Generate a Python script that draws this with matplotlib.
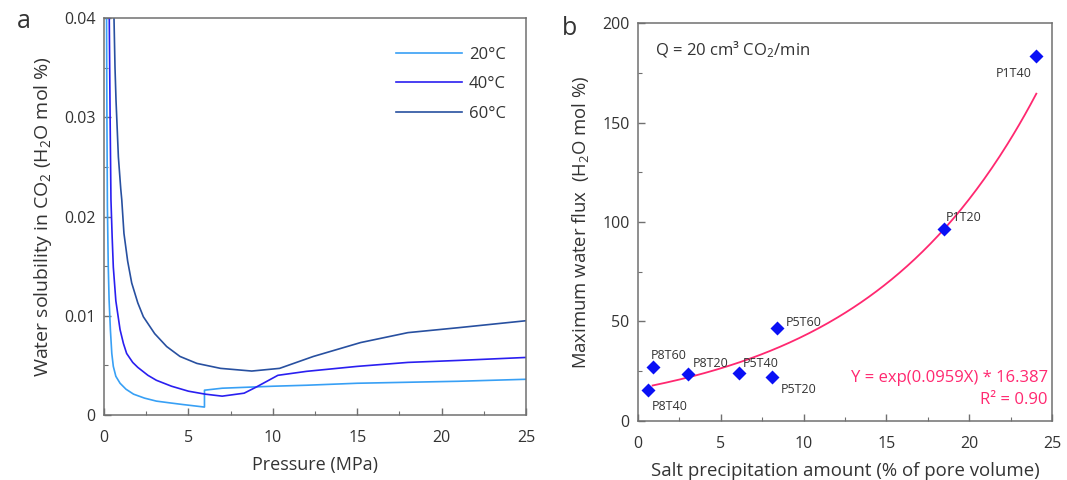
import numpy as np
import matplotlib
matplotlib.use("Agg")
import matplotlib.pyplot as plt

plt.rcParams['font.family'] = ['Open Sans', 'DejaVu Sans']
plt.rcParams['mathtext.fontset'] = 'custom'
plt.rcParams['mathtext.rm'] = 'Open Sans'
plt.rcParams['mathtext.it'] = 'Open Sans:italic'

# panel a: water solubility in CO2 vs pressure
p_20 = [0.15, 0.17, 0.2, 0.25, 0.3, 0.38, 0.46, 0.55, 0.7, 0.95, 1.3, 1.75, 2.4, 3.1, 4.0, 4.7,
        5.95, 5.95, 7.0, 8.5, 10, 12, 15, 18, 21, 25]
w_20 = [0.040, 0.030, 0.021, 0.015, 0.0116, 0.0085, 0.0062, 0.0049, 0.0039, 0.0032, 0.0026, 0.0021,
        0.0017, 0.0014, 0.0012, 0.00105, 0.0008, 0.0025, 0.0027, 0.0028, 0.0029, 0.0030, 0.0032,
        0.0033, 0.0034, 0.0036]

p_40 = [0.31, 0.36, 0.41, 0.48, 0.55, 0.7, 0.95, 1.15, 1.34, 1.7, 2.0, 2.6, 3.1, 4.0, 5.0, 6.0,
        7.0, 8.3, 9.0, 10.3, 12, 15, 18, 21, 25]
w_40 = [0.040, 0.030, 0.0217, 0.018, 0.0149, 0.0115, 0.0086, 0.0072, 0.0062, 0.0053, 0.0048, 0.0040,
        0.0035, 0.0029, 0.0024, 0.0021, 0.0019, 0.0022, 0.0028, 0.0040, 0.0044, 0.0049, 0.0053,
        0.0055, 0.0058]

p_60 = [0.59, 0.65, 0.71, 0.85, 0.99, 1.05, 1.18, 1.4, 1.64, 2.0, 2.33, 3.0, 3.71, 4.5, 5.5, 6.9,
        8.75, 10.4, 12.4, 15.2, 18, 21, 25]
w_60 = [0.040, 0.035, 0.0317, 0.026, 0.0228, 0.0217, 0.0183, 0.0155, 0.0133, 0.0113, 0.0099, 0.0082,
        0.0069, 0.0059, 0.0052, 0.0047, 0.00443, 0.0047, 0.0059, 0.0073, 0.0083, 0.0088, 0.0095]

series_names = ['20°C', '40°C', '60°C']
a_yticks = [0, 0.01, 0.02, 0.03, 0.04]
a_yticklabels = ['0', '0.01', '0.02', '0.03', '0.04']
a_xticks = [0, 5, 10, 15, 20, 25]

# panel b: max water flux vs salt precipitation
samples = ['P1T40', 'P1T20', 'P5T60', 'P8T60', 'P8T20', 'P5T40', 'P5T20', 'P8T40']
salt = [24.05, 18.5, 8.4, 0.88, 3.03, 6.1, 8.1, 0.6]
flux = [183.2, 96.6, 46.8, 27.0, 23.5, 24.2, 22.1, 15.4]
fit_k = 0.0959
fit_a = 16.387
fit_r2 = 0.90
fit_range = [0.88, 24.05]
b_yticks = [0, 50, 100, 150, 200]
b_xticks = [0, 5, 10, 15, 20, 25]

# label offsets in points (dx, dy, ha, va)
label_pos = {
    'P1T40': (-16, -12, 'center', 'center'),
    'P1T20': (1, 8, 'left', 'center'),
    'P5T60': (6, 4, 'left', 'center'),
    'P8T60': (-1, 8.5, 'left', 'center'),
    'P8T20': (3, 8, 'left', 'center'),
    'P5T40': (2.5, 7, 'left', 'center'),
    'P5T20': (6, -9, 'left', 'center'),
    'P8T40': (2.5, -12, 'left', 'center'),
}

colors = ['#38a0f5', '#2a1ff0', '#2850a0']
spine_col = '#707070'
text_col = '#333333'
fit_col = '#ff2870'

fig = plt.figure(figsize=(10.67, 4.8), dpi=100)
ax1 = fig.add_axes([0.0975, 0.1354, 0.3955, 0.827])
ax2 = fig.add_axes([0.598, 0.123, 0.388, 0.829])


def style_axes(ax):
    for s in ax.spines.values():
        s.set_color(spine_col)
        s.set_linewidth(1.1)
    ax.tick_params(which='both', direction='in', color=spine_col, labelcolor=text_col,
                   labelsize=11.5, top=False, right=False)
    ax.tick_params(which='major', length=5, width=1)
    ax.tick_params(which='minor', length=3, width=0.8)
    ax.tick_params(axis='x', which='major', pad=10.5)
    ax.tick_params(axis='y', which='major', pad=6)


for p, w, c, name in zip([p_20, p_40, p_60], [w_20, w_40, w_60], colors, series_names):
    ax1.plot(p, w, color=c, lw=1.2, label=name)

ax1.set_xlim(0, 25)
ax1.set_ylim(0, 0.04)
ax1.set_xticks(a_xticks)
ax1.set_xticks([2.5, 7.5, 12.5, 17.5, 22.5], minor=True)
ax1.set_yticks(a_yticks)
ax1.set_yticklabels(a_yticklabels)
ax1.set_yticks([0.005, 0.015, 0.025, 0.035], minor=True)
style_axes(ax1)
ax1.set_xlabel('Pressure (MPa)', fontsize=13, color=text_col, labelpad=7.5)
ax1.set_ylabel(r'Water solubility in CO$_\mathregular{2}$ (H$_\mathregular{2}$O mol %)',
               fontsize=14, color=text_col, labelpad=7)
leg = ax1.legend(loc='upper right', frameon=False, fontsize=12, handlelength=4.0,
                 handletextpad=0.4, labelspacing=0.8, bbox_to_anchor=(0.988, 0.965))
for t in leg.get_texts():
    t.set_color(text_col)
fig.text(0.016, 0.955, 'a', fontsize=18, color=text_col, va='center')

# panel b
xfit = np.linspace(fit_range[0], fit_range[1], 200)
ax2.plot(xfit, fit_a * np.exp(fit_k * xfit), color=fit_col, lw=1.3)
ax2.plot(salt, flux, 'D', color='#0a10f5', ms=7.5, mec='none')
for name, x, y in zip(samples, salt, flux):
    dx, dy, ha, va = label_pos[name]
    ax2.annotate(name, (x, y), xytext=(dx, dy), textcoords='offset points',
                 ha=ha, va=va, fontsize=9, color=text_col)
ax2.set_xlim(0, 25)
ax2.set_ylim(0, 200)
ax2.set_xticks(b_xticks)
ax2.set_xticks([2.5, 7.5, 12.5, 17.5, 22.5], minor=True)
ax2.set_yticks(b_yticks)
ax2.set_yticks([25, 75, 125, 175], minor=True)
style_axes(ax2)
ax2.set_xlabel('Salt precipitation amount (% of pore volume)', fontsize=13.4, color=text_col,
               labelpad=7.5)
ax2.set_ylabel(r'Maximum water flux  (H$_\mathregular{2}$O mol %)', fontsize=13.3,
               color=text_col, labelpad=8)
ax2.text(0.04, 0.932, 'Q = 20 cm³ CO$_\\mathregular{2}$/min', transform=ax2.transAxes,
         fontsize=12, color=text_col, va='center')
ax2.text(0.99, 0.108, f'Y = exp({fit_k}X) * {fit_a}', transform=ax2.transAxes,
         fontsize=12, color=fit_col, ha='right', va='center')
ax2.text(0.99, 0.053, f'R² = {fit_r2:.2f}', transform=ax2.transAxes,
         fontsize=12, color=fit_col, ha='right', va='center')
fig.text(0.527, 0.94, 'b', fontsize=18, color=text_col, va='center')

fig.savefig('out.png', dpi=100)
